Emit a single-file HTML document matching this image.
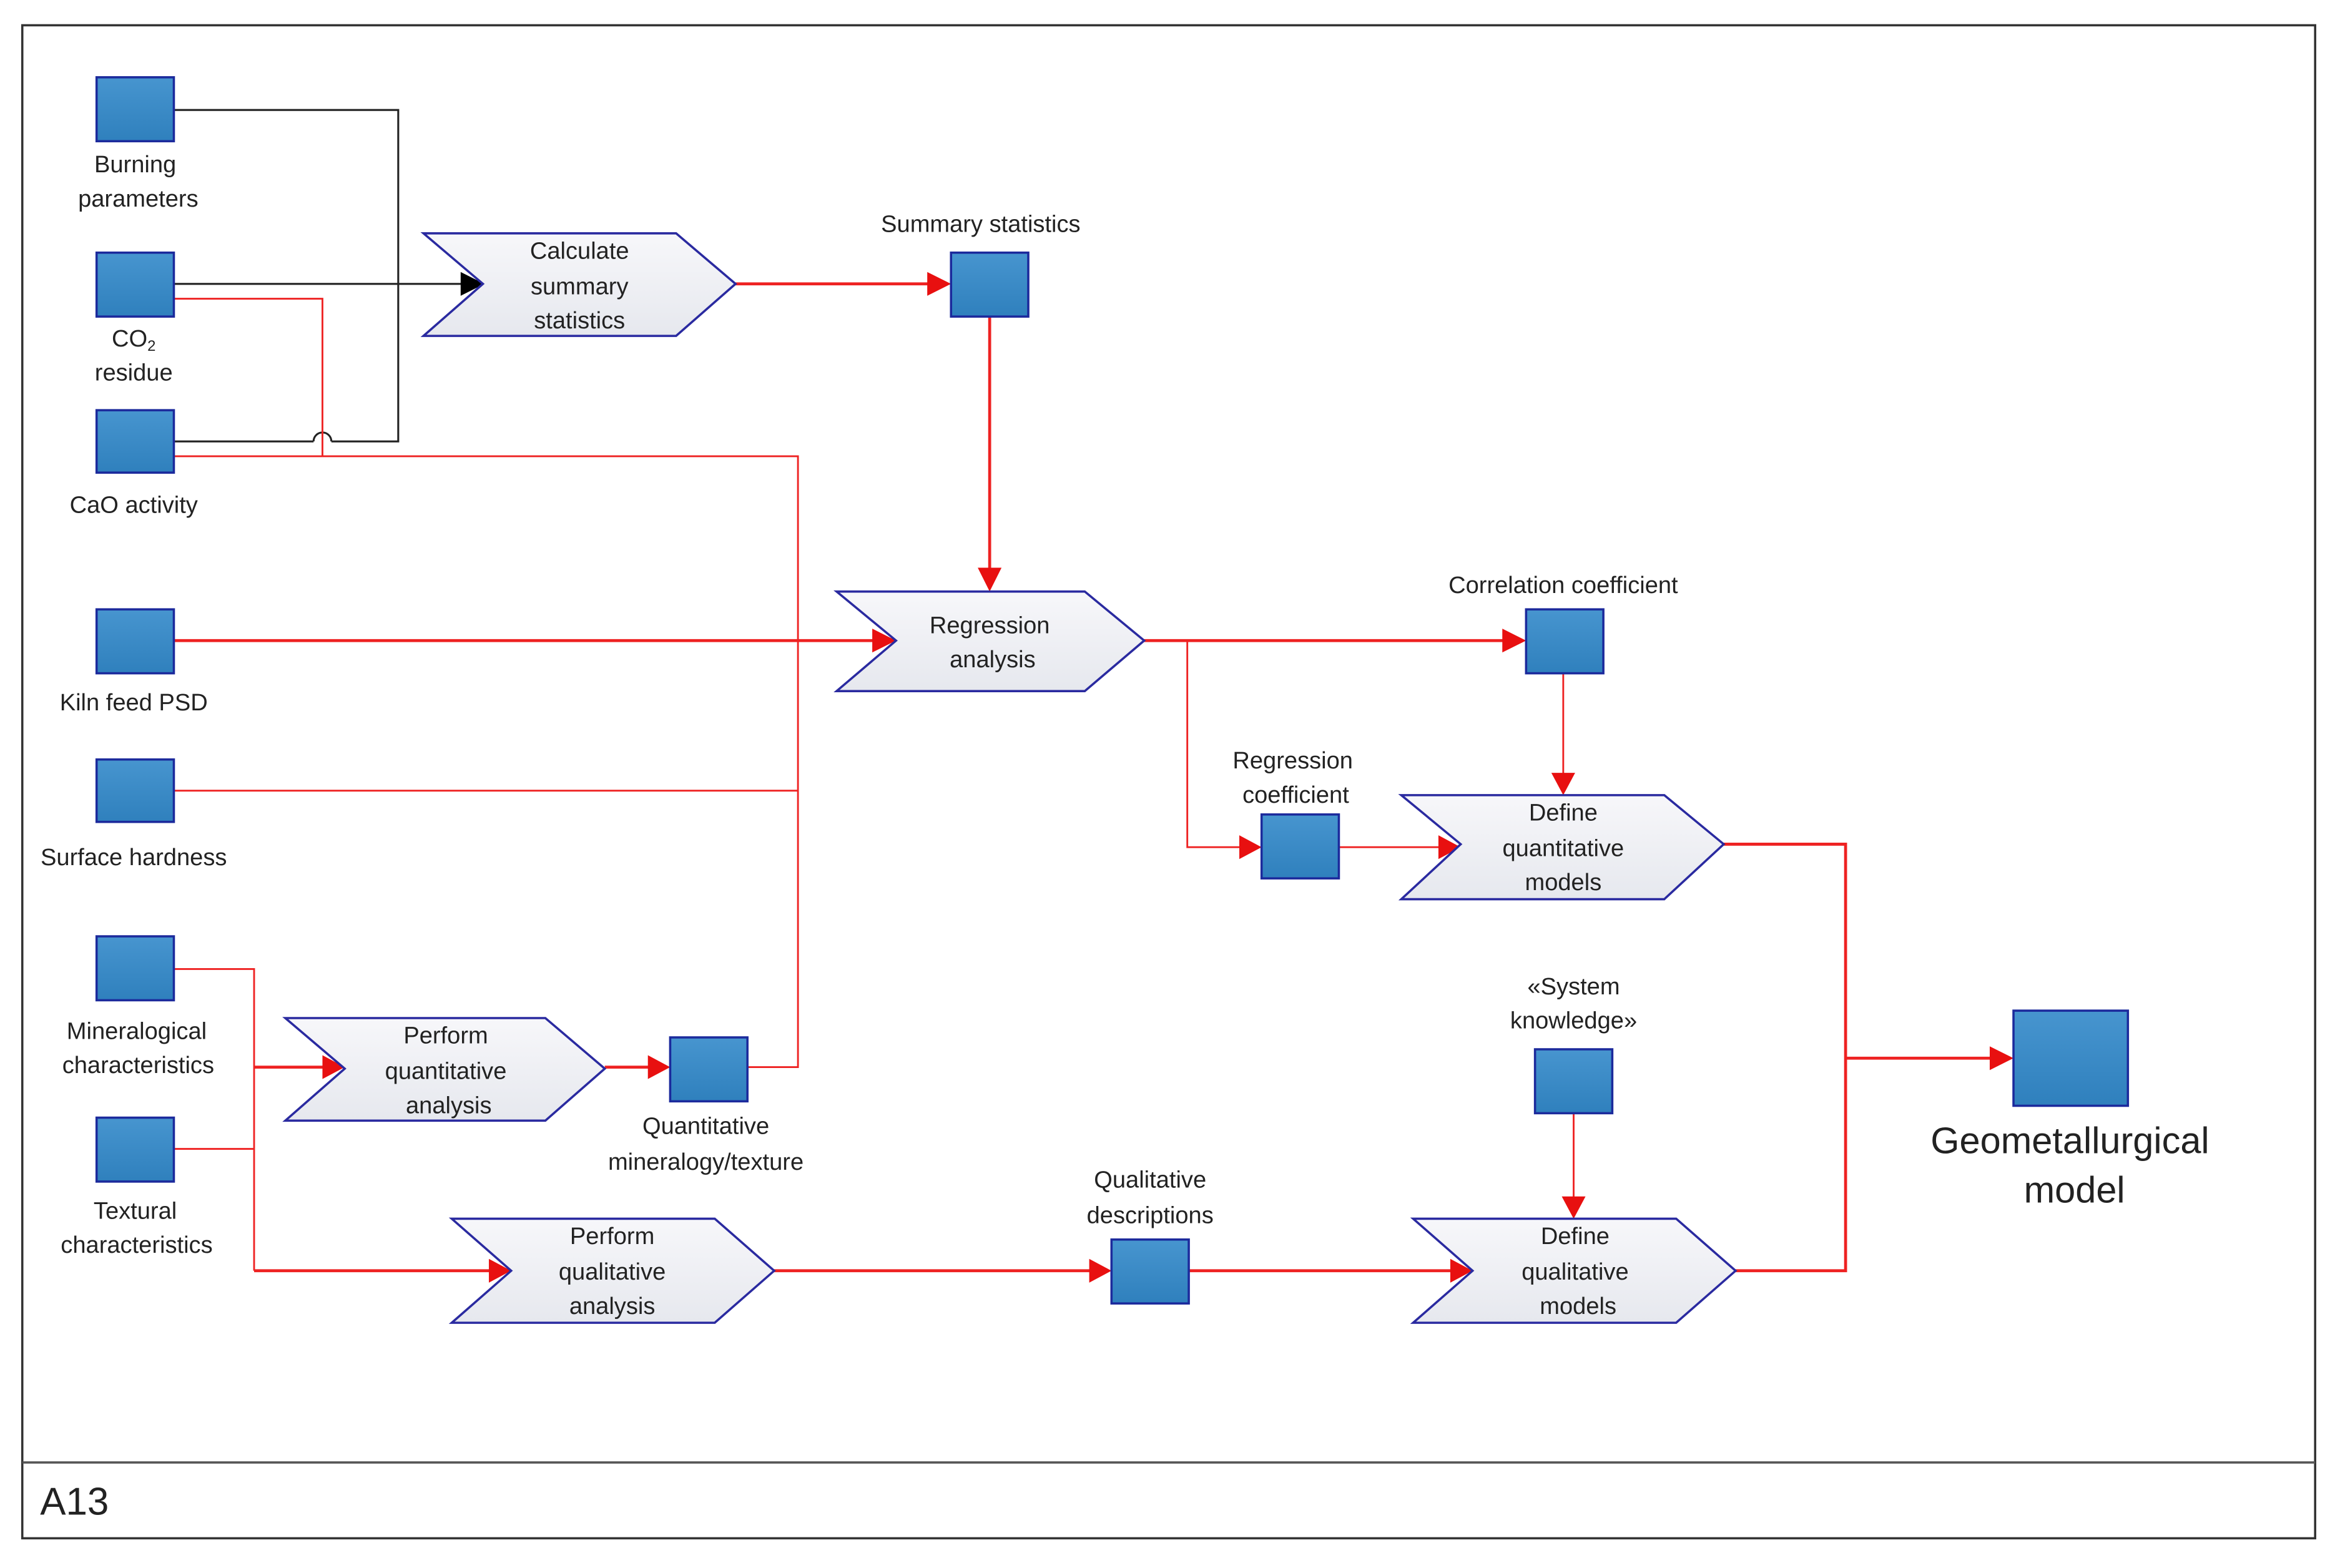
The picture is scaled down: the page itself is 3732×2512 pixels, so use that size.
<!DOCTYPE html>
<html><head><meta charset="utf-8"><style>
html,body{margin:0;padding:0;background:#fff;}
svg{display:block;}
text{font-family:"Liberation Sans",sans-serif;fill:#222;}
</style></head><body>
<svg width="3732" height="2512" viewBox="0 0 1568 1055" preserveAspectRatio="none" xmlns="http://www.w3.org/2000/svg">
<defs>
<linearGradient id="g" x1="0" y1="0" x2="0" y2="1"><stop offset="0" stop-color="#4795cf"/><stop offset="1" stop-color="#2f80bd"/></linearGradient>
<linearGradient id="c" x1="0" y1="0" x2="0" y2="1"><stop offset="0" stop-color="#f7f7fa"/><stop offset="1" stop-color="#e6e8ee"/></linearGradient>
</defs>
<rect x="0" y="0" width="1568" height="1055" fill="#fff"/>
<rect x="15" y="17" width="1543" height="1018" fill="none" stroke="#333" stroke-width="1.5"/>
<line x1="15" y1="984" x2="1558" y2="984" stroke="#555" stroke-width="1.5"/>
<text x="27" y="1019" font-size="26">A13</text>

<!-- black connectors -->
<g fill="none" stroke="#222" stroke-width="1.3">
<polyline points="117,74 268,74 268,297 223,297"/>
<path d="M211,297 a6,6 0 0 1 12,0"/>
<line x1="117" y1="297" x2="211" y2="297"/>
<line x1="117" y1="191" x2="312" y2="191"/>
</g>
<polygon points="326,191 310,183 310,199" fill="#000"/>

<!-- thin red -->
<g fill="none" stroke="#e22" stroke-width="1.2">
<polyline points="117,201 217,201 217,307"/>
<polyline points="117,307 537,307 537,718 503,718"/>
<line x1="117" y1="532" x2="537" y2="532"/>
<polyline points="117,652 171,652 171,855"/>
<line x1="117" y1="773" x2="171" y2="773"/>
<polyline points="799,431 799,570 836,570"/>
<line x1="901" y1="570" x2="970" y2="570"/>
<line x1="1052" y1="453" x2="1052" y2="521"/>
<line x1="1059" y1="749" x2="1059" y2="806"/>
</g>
<!-- thick red -->
<g fill="none" stroke="#e22" stroke-width="2">
<line x1="117" y1="431" x2="590" y2="431"/>
<line x1="495" y1="191" x2="627" y2="191"/>
<line x1="666" y1="213" x2="666" y2="384"/>
<line x1="770" y1="431" x2="1014" y2="431"/>
<polyline points="1160,568 1242,568 1242,855 1168,855"/>
<line x1="1242" y1="712" x2="1342" y2="712"/>
<line x1="171" y1="718" x2="219" y2="718"/>
<line x1="407" y1="718" x2="438" y2="718"/>
<line x1="171" y1="855" x2="331" y2="855"/>
<line x1="521" y1="855" x2="735" y2="855"/>
<line x1="800" y1="855" x2="978" y2="855"/>
</g>
<g fill="#e81010">
<polygon points="603,431 587,423 587,439"/>
<polygon points="640,191 624,183 624,199"/>
<polygon points="666,398 658,382 674,382"/>
<polygon points="1027,431 1011,423 1011,439"/>
<polygon points="849,570 834,562 834,578"/>
<polygon points="983,570 968,562 968,578"/>
<polygon points="1052,535 1044,520 1060,520"/>
<polygon points="1059,820 1051,805 1067,805"/>
<polygon points="1355,712 1339,704 1339,720"/>
<polygon points="232,718 217,710 217,726"/>
<polygon points="451,718 436,710 436,726"/>
<polygon points="344,855 329,847 329,863"/>
<polygon points="748,855 733,847 733,863"/>
<polygon points="991,855 976,847 976,863"/>
</g>

<!-- chevrons -->
<g fill="url(#c)" stroke="#2a2aa0" stroke-width="1.5">
<polygon points="285,157 455,157 495,191 455,226 285,226 325,191"/>
<polygon points="563,398 730,398 770,431 730,465 563,465 603,431"/>
<polygon points="943,535 1120,535 1160,568 1120,605 943,605 983,568"/>
<polygon points="951,820 1128,820 1168,855 1128,890 951,890 991,855"/>
<polygon points="304,820 481,820 521,855 481,890 304,890 344,855"/>
<polygon points="192,685 367,685 407,719 367,754 192,754 232,719"/>
</g>

<!-- squares -->
<g fill="url(#g)" stroke="#1c2a9c" stroke-width="1.5">
<rect x="65" y="52" width="52" height="43"/>
<rect x="65" y="170" width="52" height="43"/>
<rect x="65" y="276" width="52" height="42"/>
<rect x="65" y="410" width="52" height="43"/>
<rect x="65" y="511" width="52" height="42"/>
<rect x="65" y="630" width="52" height="43"/>
<rect x="65" y="752" width="52" height="43"/>
<rect x="640" y="170" width="52" height="43"/>
<rect x="1027" y="410" width="52" height="43"/>
<rect x="849" y="548" width="52" height="43"/>
<rect x="1033" y="706" width="52" height="43"/>
<rect x="748" y="834" width="52" height="43"/>
<rect x="451" y="698" width="52" height="43"/>
<rect x="1355" y="680" width="77" height="64"/>
</g>

<g font-size="16" text-anchor="middle">
<text x="91" y="116">Burning</text><text x="93" y="139">parameters</text>
<text x="90" y="233">CO<tspan font-size="10" dy="3">2</tspan></text><text x="90" y="256">residue</text>
<text x="90" y="345">CaO activity</text>
<text x="90" y="478">Kiln feed PSD</text>
<text x="90" y="582">Surface hardness</text>
<text x="92" y="699">Mineralogical</text><text x="93" y="722">characteristics</text>
<text x="91" y="820">Textural</text><text x="92" y="843">characteristics</text>
<text x="390" y="174">Calculate</text><text x="390" y="198">summary</text><text x="390" y="221">statistics</text>
<text x="660" y="156">Summary statistics</text>
<text x="666" y="426">Regression</text><text x="668" y="449">analysis</text>
<text x="1052" y="399">Correlation coefficient</text>
<text x="870" y="517">Regression</text><text x="872" y="540">coefficient</text>
<text x="1052" y="552">Define</text><text x="1052" y="576">quantitative</text><text x="1052" y="599">models</text>
<text x="1059" y="669">«System</text><text x="1059" y="692">knowledge»</text>
<text x="1060" y="837">Define</text><text x="1060" y="861">qualitative</text><text x="1062" y="884">models</text>
<text x="774" y="799">Qualitative</text><text x="774" y="823">descriptions</text>
<text x="412" y="837">Perform</text><text x="412" y="861">qualitative</text><text x="412" y="884">analysis</text>
<text x="300" y="702">Perform</text><text x="300" y="726">quantitative</text><text x="302" y="749">analysis</text>
<text x="475" y="763">Quantitative</text><text x="475" y="787">mineralogy/texture</text>
</g>
<g font-size="25" text-anchor="middle">
<text x="1393" y="776">Geometallurgical</text>
<text x="1396" y="809">model</text>
</g>
</svg>
</body></html>
